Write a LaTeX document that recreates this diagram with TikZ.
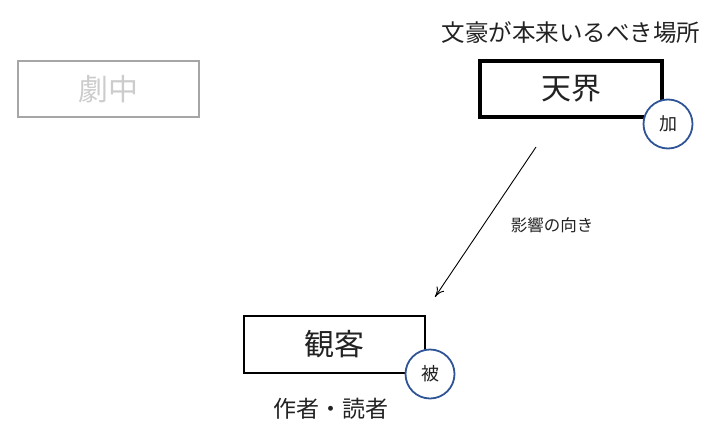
\documentclass[tikz,border=0pt]{standalone}
\usepackage{fontspec}
\setmainfont{Noto Sans CJK JP}
\usetikzlibrary{arrows.meta}
\definecolor{cblue}{HTML}{2F5597}
\definecolor{ctext}{HTML}{222222}
\tikzset{
  mainbox/.style={draw=black, rectangle, inner sep=0pt, font=\fontsize{30}{33}\selectfont, text=ctext},
  markcirc/.style={draw=cblue, line width=1.8pt, circle, fill=white, minimum size=49pt, inner sep=0pt, font=\fontsize{18}{20}\selectfont, text=ctext},
  caption/.style={font=\fontsize{23.5}{26}\selectfont, text=ctext, inner sep=0pt},
}
\begin{document}
\begin{tikzpicture}[x=1pt,y=-1pt]
\useasboundingbox (0,0) rectangle (720,442);
\node[mainbox, draw=black!35, line width=1.5pt, text=black!20, minimum width=181pt, minimum height=56pt] (geki) at (108.5,89) {劇中};
\node[mainbox, line width=3.5pt, minimum width=182pt, minimum height=56pt] (tenkai) at (571,89) {天界};
\node[markcirc] (ka) at (668,124) {加};
\node[caption] (title) at (571,33) {文豪が本来いるべき場所};
\node[mainbox, line width=2pt, minimum width=181pt, minimum height=57pt] (kankyaku) at (334,344) {観客};
\node[markcirc] (hi) at (430,374) {被};
\node[caption, font=\fontsize{23}{26}\selectfont] (reader) at (331,409) {作者・読者};
\coordinate (a1) at (536,147);
\coordinate (a2) at (435,297);
\draw[line width=0.9pt, -{To[length=10pt,width=9pt]}] (a1) -- (a2);
\node[font=\fontsize{16.5}{18}\selectfont, text=ctext, inner sep=0pt] (lbl) at (552,225) {影響の向き};
\end{tikzpicture}
\end{document}
